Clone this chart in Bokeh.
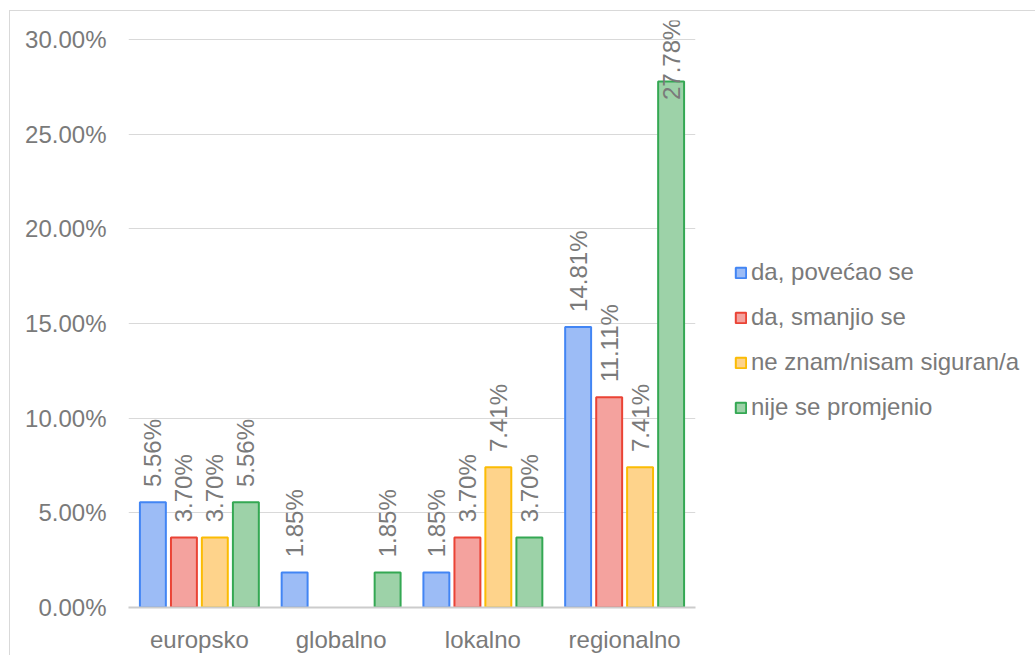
import math
from bokeh.plotting import figure
from bokeh.models import (ColumnDataSource, FactorRange, Range1d, FixedTicker,
                          PrintfTickFormatter, Legend, LegendItem)
from bokeh.transform import dodge
from bokeh.core.properties import value
from bokeh.embed import file_html
from bokeh.resources import INLINE

categories = ["europsko", "globalno", "lokalno", "regionalno"]
series_names = ["da, povećao se", "da, smanjio se", "ne znam/nisam siguran/a", "nije se promjenio"]
da_povecao = [5.56, 1.85, 1.85, 14.81]
da_smanjio = [3.70, float("nan"), 3.70, 11.11]
ne_znam = [3.70, float("nan"), 7.41, 7.41]
nije_promjenio = [5.56, 1.85, 3.70, 27.78]
y_ticks = [0, 5, 10, 15, 20, 25, 30]

series_values = [da_povecao, da_smanjio, ne_znam, nije_promjenio]
fills = ["#9cbcf6", "#f4a29e", "#fed38b", "#9dd2a8"]
lines = ["#4285f4", "#ea4335", "#fbbc04", "#34a853"]
offsets = [-0.328, -0.109, 0.109, 0.328]
FONT = "Liberation Sans"
TXT = "#7a7a7a"
FS = "24px"

p = figure(x_range=FactorRange(*categories, range_padding=0),
           y_range=Range1d(0, 31),
           frame_width=567, frame_height=587,
           min_border_left=118, min_border_top=9, min_border_bottom=36,
           output_backend="svg", toolbar_location=None,
           background_fill_color="white", border_fill_color="white")
p.styles = {"margin-left": "9px", "margin-top": "10px",
            "border-left": "1px solid #d9d9d9", "border-top": "1px solid #d9d9d9"}
p.outline_line_color = None

items = []
for name, vals, fc, lc, off in zip(series_names, series_values, fills, lines, offsets):
    src = ColumnDataSource(dict(cat=categories, v=vals))
    r = p.vbar(x=dodge("cat", off, range=p.x_range), top="v", width=0.183, source=src,
               fill_color=fc, line_color=lc, line_width=2)
    items.append(LegendItem(label=name, renderers=[r]))
    lc_cats, lc_y, lc_txt = [], [], []
    for c, v in zip(categories, vals):
        if not math.isnan(v):
            lc_cats.append(c)
            lc_y.append(min(v + 0.8, 26.8))
            lc_txt.append(f"{v:.2f}%")
    lsrc = ColumnDataSource(dict(cat=lc_cats, y=lc_y, t=lc_txt))
    p.text(x=dodge("cat", off, range=p.x_range), y="y", text="t", source=lsrc,
           angle=math.pi / 2, text_align="left", text_baseline="middle",
           text_font=value(FONT), text_font_size=FS, text_color=TXT)

legend = Legend(items=items, location=(39, 186), orientation="vertical",
                label_text_font=FONT, label_text_font_size=FS, label_text_color=TXT,
                glyph_width=13, glyph_height=13, label_height=24, spacing=17,
                label_standoff=4, padding=10, margin=0, border_line_color=None,
                background_fill_alpha=0)
p.add_layout(legend, "right")

p.yaxis.ticker = FixedTicker(ticks=y_ticks)
p.yaxis.formatter = PrintfTickFormatter(format="%.2f%%")
p.yaxis.axis_line_color = None
p.yaxis.major_tick_line_color = None
p.yaxis.minor_tick_line_color = None
p.yaxis.major_label_standoff = 16
p.yaxis.major_label_text_font = FONT
p.yaxis.major_label_text_font_size = FS
p.yaxis.major_label_text_color = TXT

p.xaxis.axis_line_color = "#cccccc"
p.xaxis.axis_line_width = 2
p.xaxis.major_tick_line_color = None
p.xaxis.minor_tick_line_color = None
p.xaxis.major_label_standoff = 12
p.xaxis.major_label_text_font = FONT
p.xaxis.major_label_text_font_size = FS
p.xaxis.major_label_text_color = TXT

p.xgrid.grid_line_color = None
p.ygrid.ticker = FixedTicker(ticks=y_ticks)
p.ygrid.grid_line_color = "#d9d9d9"
p.ygrid.grid_line_width = 1

open("out.html", "w").write(file_html(p, INLINE))
